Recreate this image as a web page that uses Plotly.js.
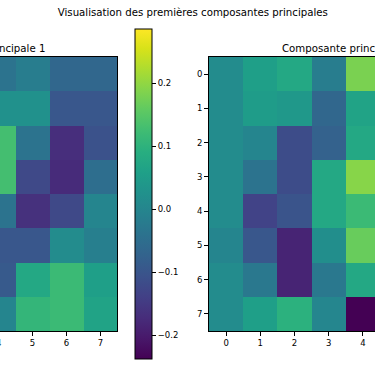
<!DOCTYPE html>
<html>
<head>
<meta charset="utf-8">
<script src="https://cdn.plot.ly/plotly-3.0.1.min.js"></script>
<style>
  html, body { margin: 0; padding: 0; width: 375px; height: 366px; overflow: hidden; background: #fff; }
  #chart { position: absolute; left: -200px; top: 0; width: 760px; height: 366px; }
</style>
</head>
<body>
<div id="chart"></div>
<script>
// Visible portion of component 1 (columns 4-7) and component 2 (columns 0-4)
const comp1Cols = [4, 5, 6, 7];
const comp1Rows = [0, 1, 2, 3, 4, 5, 6, 7];
const comp1Values = [
  [-0.039, -0.018, -0.065, -0.065],
  [ 0.024,  0.024, -0.097, -0.097],
  [ 0.129, -0.039, -0.170, -0.107],
  [ 0.129, -0.123, -0.175, -0.049],
  [-0.039, -0.165, -0.123, -0.002],
  [-0.097, -0.097,  0.014, -0.013],
  [-0.091,  0.076,  0.118,  0.055],
  [-0.002,  0.108,  0.118,  0.066]
];
const comp2Cols = [0, 1, 2, 3, 4];
const comp2Rows = [0, 1, 2, 3, 4, 5, 6, 7];
const comp2Values = [
  [ 0.014,  0.055,  0.076, -0.018,  0.181],
  [ 0.014,  0.050,  0.040, -0.065,  0.066],
  [ 0.014, -0.002, -0.117, -0.076,  0.076],
  [ 0.014, -0.039, -0.117,  0.076,  0.192],
  [ 0.014, -0.133, -0.102,  0.076,  0.118],
  [-0.002, -0.097, -0.186,  0.019,  0.165],
  [ 0.014, -0.028, -0.186, -0.028,  0.076],
  [ 0.014,  0.055,  0.097,  0.000, -0.238]
];
const comp1TickVals = [4, 5, 6, 7];
const comp1TickText = ['4', '5', '6', '7'];
const comp2TickVals = [0, 1, 2, 3, 4];
const comp2TickText = ['0', '1', '2', '3', '4'];
const rowTickVals = [0, 1, 2, 3, 4, 5, 6, 7];
const rowTickText = ['0', '1', '2', '3', '4', '5', '6', '7'];
const cbarTicks = [-0.2, -0.1, 0.0, 0.1, 0.2];
const zMin = -0.238, zMax = 0.286;
const mainTitle = 'Visualisation des premières composantes principales';
const subTitles = ['Composante principale 1', 'Composante principale 2'];

const W = 760, H = 366;
const font = { family: 'DejaVu Sans, sans-serif', size: 8.5, color: '#000' };
const titleFont = { family: 'DejaVu Sans, sans-serif', size: 10.2, color: '#000' };

const traces = [
  {
    type: 'heatmap', x: comp1Cols, y: comp1Rows, z: comp1Values,
    colorscale: 'Viridis', zmin: zMin, zmax: zMax, xaxis: 'x', yaxis: 'y',
    showscale: true,
    colorbar: {
      x: 335 / W, xanchor: 'left', xpad: 0, ypad: 0,
      y: 1 - 194.15 / H, yanchor: 'middle',
      len: (359 - 29.3) / H, lenmode: 'fraction',
      thickness: 16.5, thicknessmode: 'pixels',
      outlinewidth: 1, outlinecolor: '#000',
      tickvals: cbarTicks, tickformat: '.1f', ticks: 'outside', ticklen: 4,
      tickcolor: '#000', tickfont: font
    }
  },
  {
    type: 'heatmap', x: comp2Cols, y: comp2Rows, z: comp2Values,
    colorscale: 'Viridis', zmin: zMin, zmax: zMax, xaxis: 'x2', yaxis: 'y2',
    showscale: false
  }
];

const axisCommon = {
  showgrid: false, zeroline: false, showline: true, mirror: true,
  linecolor: '#000', linewidth: 1, ticks: 'outside', ticklen: 4, tickcolor: '#000',
  tickfont: font
};

const layout = {
  width: W, height: H,
  margin: { l: 0, r: 0, t: 0, b: 0 },
  paper_bgcolor: '#fff', plot_bgcolor: '#fff',
  font: font,
  title: {
    text: mainTitle, font: titleFont,
    x: 392.8 / W, xanchor: 'center', xref: 'paper',
    y: 1 - 12 / H, yanchor: 'middle', yref: 'container'
  },
  xaxis: Object.assign({}, axisCommon, { domain: [46 / W, 317.3 / W], range: [-0.5, 7.5], anchor: 'y',
    tickvals: comp1TickVals, ticktext: comp1TickText }),
  yaxis: Object.assign({}, axisCommon, { domain: [1 - 331 / H, 1 - 57 / H], range: [7.5, -0.5], anchor: 'x',
    showticklabels: false, ticks: '' }),
  xaxis2: Object.assign({}, axisCommon, { domain: [409 / W, 682.6 / W], range: [-0.5, 7.5], anchor: 'y2',
    tickvals: comp2TickVals, ticktext: comp2TickText }),
  yaxis2: Object.assign({}, axisCommon, { domain: [1 - 331 / H, 1 - 57 / H], range: [7.5, -0.5], anchor: 'x2',
    tickvals: rowTickVals, ticktext: rowTickText }),
  annotations: [
    { text: subTitles[0], xref: 'paper', yref: 'paper', x: 181.65 / W, y: 1 - 48 / H,
      xanchor: 'center', yanchor: 'middle', showarrow: false, font: titleFont },
    { text: subTitles[1], xref: 'paper', yref: 'paper', x: 545.8 / W, y: 1 - 48 / H,
      xanchor: 'center', yanchor: 'middle', showarrow: false, font: titleFont }
  ]
};

Plotly.newPlot('chart', traces, layout, { staticPlot: true, displayModeBar: false });
</script>
</body>
</html>
